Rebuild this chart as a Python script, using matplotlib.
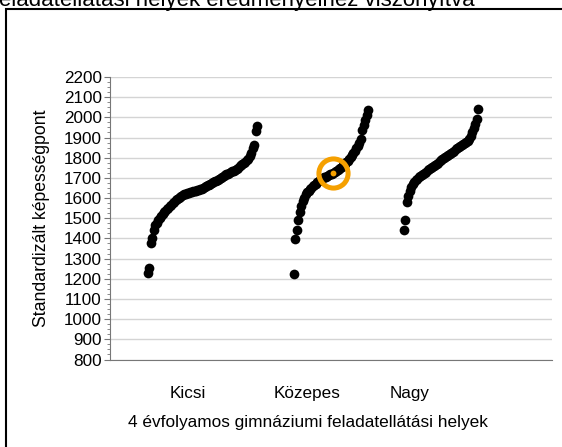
import matplotlib
matplotlib.use("Agg")
import matplotlib.pyplot as plt
import numpy as np
from matplotlib.patches import Rectangle
from matplotlib.ticker import MultipleLocator

plt.rcParams["font.family"] = ["Liberation Sans", "DejaVu Sans"]

# ----------------------------------------
# data
# ----------------------------------------
categories = ["Kicsi", "Közepes", "Nagy"]

kicsi = [
    1227, 1252, 1376, 1400, 1440, 1465, 1478, 1490, 1500, 1510,
    1522, 1530, 1538, 1546, 1553, 1560, 1568, 1575, 1582, 1588,
    1594, 1600, 1606, 1611, 1615, 1618, 1621, 1624, 1627, 1629,
    1631, 1633, 1635, 1637, 1639, 1641, 1643, 1646, 1650, 1654,
    1658, 1663, 1667, 1671, 1675, 1679, 1683, 1687, 1691, 1695,
    1700, 1704, 1709, 1713, 1717, 1721, 1725, 1728, 1732, 1736,
    1740, 1745, 1751, 1757, 1762, 1768, 1774, 1781, 1788, 1796,
    1808, 1825, 1850, 1865, 1930, 1955,
]

kozepes = [
    1224, 1395, 1440, 1490, 1530, 1562, 1585, 1602, 1618, 1628,
    1637, 1645, 1652, 1659, 1666, 1672, 1678, 1684, 1689, 1694,
    1698, 1702, 1706, 1710, 1714, 1718, 1721, 1724, 1728, 1732,
    1737, 1742, 1748, 1754, 1762, 1770, 1778, 1786, 1795, 1804,
    1813, 1823, 1833, 1846, 1860, 1875, 1895, 1935, 1960, 1985,
    2010, 2036,
]

nagy = [
    1442, 1491, 1582, 1610, 1635, 1655, 1672, 1680, 1688, 1695,
    1702, 1708, 1714, 1720, 1726, 1731, 1737, 1742, 1748, 1753,
    1759, 1764, 1770, 1776, 1782, 1787, 1792, 1797, 1802, 1807,
    1813, 1818, 1824, 1829, 1835, 1841, 1846, 1851, 1856, 1861,
    1866, 1871, 1877, 1885, 1895, 1910, 1925, 1945, 1965, 1990,
    2041,
]

series = [kicsi, kozepes, nagy]
highlight_group = 1   # Közepes
highlight_index = 27  # kiemelt intézmény

# ----------------------------------------
# layout (x in pixel-like units of the axes)
# ----------------------------------------
W, H = 562, 447
group_span = [(148, 257), (294, 368), (404, 478)]
label_x = [188, 307, 410]

fig = plt.figure(figsize=(W / 100, H / 100), dpi=100)
ax = fig.add_axes([110 / W, 1 - 359.5 / H, 442 / W, 282.5 / H])

for vals, (x0, x1) in zip(series, group_span):
    xs = np.linspace(x0, x1, len(vals))
    ax.plot(xs, vals, "o", color="black", markersize=7, markeredgewidth=0, zorder=3)

# kiemelt pont
hv = series[highlight_group]
hx0, hx1 = group_span[highlight_group]
hxs = np.linspace(hx0, hx1, len(hv))
ax.plot(hxs[highlight_index], hv[highlight_index], "o", markersize=21,
        markerfacecolor="none", markeredgecolor="#F5A000", markeredgewidth=3.6, zorder=5)
ax.plot(hxs[highlight_index], hv[highlight_index], "o", markersize=4.2,
        color="#F5A000", markeredgewidth=0, zorder=6)

ax.set_xlim(110, 552)
ax.set_ylim(800, 2200)
ax.yaxis.set_major_locator(MultipleLocator(100))
ax.yaxis.set_minor_locator(MultipleLocator(25))
ax.grid(axis="y", color="#d4d4d4", linewidth=1.0, zorder=0)
ax.set_axisbelow(True)

for side in ["top", "right"]:
    ax.spines[side].set_visible(False)
ax.spines["left"].set_color("#777777")
ax.spines["bottom"].set_color("#777777")

ax.tick_params(axis="y", which="major", length=4, color="#777777", labelsize=12.3, pad=2)
ax.tick_params(axis="y", which="minor", length=2, color="#777777")
ax.set_xticks(label_x, categories)
ax.tick_params(axis="x", length=0, labelsize=12.3, pad=19)

ax.set_ylabel("Standardizált képességpont", fontsize=12.7, labelpad=10)
fig.text(307.5 / W, 1 - 422 / H, "4 évfolyamos gimnáziumi feladatellátási helyek",
         ha="center", va="center", fontsize=12.4)

# levágott cím a kép tetején
fig.text(475 / W, 1 - 6 / H,
         "a 4 évfolyamos gimnáziumi feladatellátási helyek eredményeihez viszonyítva",
         ha="right", va="baseline", fontsize=16)

# keret
fig.add_artist(Rectangle((5.5 / W, -0.1), 1.2, 1 - 9 / H + 0.1, transform=fig.transFigure,
                         fill=False, edgecolor="black", linewidth=1.5, clip_on=False))

fig.savefig("out.png", dpi=100)
